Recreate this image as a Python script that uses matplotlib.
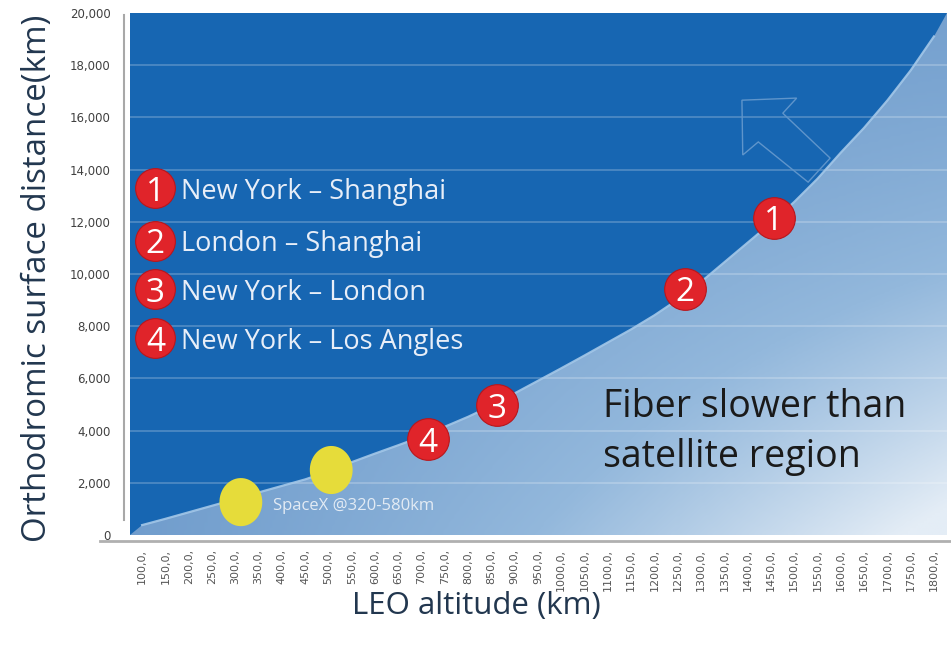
import numpy as np
import matplotlib
matplotlib.use("Agg")
import matplotlib.pyplot as plt
from matplotlib.patches import Polygon
from matplotlib.path import Path
from matplotlib.lines import Line2D
from matplotlib.colors import LinearSegmentedColormap

# LEO altitude (km) and the orthodromic distance at which fiber and satellite break even
altitude_km = np.arange(100, 1801, 50)
distance_km = [380, 620, 870, 1120, 1370, 1630, 1880, 2130, 2430, 2790,
               3120, 3440, 3770, 4150, 4530, 4950, 5430, 5910, 6390, 6880,
               7380, 7880, 8420, 9020, 9700, 10450, 11200, 11950, 12760, 13650,
               14650, 15600, 16650, 17800, 19100]
altitude_labels = [f"{a},0," for a in altitude_km]

y_ticks = [0, 2000, 4000, 6000, 8000, 10000, 12000, 14000, 16000, 18000, 20000]
y_tick_labels = ["0", "2,000", "4,000", "6,000", "8,000", "10,000", "12,000",
                 "14,000", "16,000", "18,000", "20,000"]

# city pairs
route_ids = ["1", "2", "3", "4"]
route_names = ["New York – Shanghai", "London – Shanghai",
               "New York – London", "New York – Los Angles"]
route_altitude = [1456, 1265, 862, 714]
route_distance = [12150, 9430, 4980, 3660]

# SpaceX shells
spacex_altitude = [312, 506]
spacex_distance = [1260, 2490]
spacex_label = "SpaceX @320-580km"

DARK_BLUE = "#1766b2"
RED = "#e0242a"
YELLOW = "#e6dc3a"
FONT = ["Open Sans", "DejaVu Sans"]

fig = plt.figure(figsize=(9.51, 6.48), dpi=100)
fig.patch.set_facecolor("white")
W, H = 951, 648
ax = fig.add_axes([130 / W, (H - 535) / H, 817 / W, 522 / H])
ax.set_facecolor(DARK_BLUE)
x0, x1 = 74, 1828
y0, y1 = 0, 20000
ax.set_xlim(x0, x1)
ax.set_ylim(y0, y1)
for s in ax.spines.values():
    s.set_visible(False)

# light region below the break-even curve, shaded with a diagonal gradient
verts = [(x0, y0)] + list(zip(altitude_km, distance_km)) + [(x1, y1), (x1, y0)]
region = Polygon(verts, closed=True, facecolor="none", edgecolor="none")
ax.add_patch(region)
u = np.linspace(0, 1, 300)[None, :]
v = np.linspace(1, 0, 200)[:, None]
t = np.clip(0.12 * u + 0.88 * (u ** 1.2) * (1 - v) ** 1.3 + 0.06 * (1 - v), 0, 1)
cmap = LinearSegmentedColormap.from_list("shade", ["#6d9acb", "#93b8dc", "#e4edf6"])
img = ax.imshow(t, cmap=cmap, vmin=0, vmax=1, extent=[x0, x1, y0, y1],
                aspect="auto", interpolation="bilinear", zorder=1)
img.set_clip_path(region)

# horizontal gridlines
for yt in y_ticks[1:-1]:
    ax.axhline(yt, color="white", alpha=0.25, lw=1.2, zorder=2)

# break-even curve
ax.plot(altitude_km, distance_km, color="#a3c7e8", lw=1.6, alpha=0.9, zorder=3)

# outlined arrow pointing into the "satellite faster" region
arrow_pts = [(0.749, 0.833), (0.816, 0.837), (0.799, 0.808), (0.857, 0.722),
             (0.830, 0.676), (0.769, 0.753), (0.750, 0.728)]
ax.add_patch(Polygon(arrow_pts, closed=True, transform=ax.transAxes,
                     facecolor="none", edgecolor="#5f95cb", lw=1.0, zorder=3))

# SpaceX shells as yellow ellipses
th = np.linspace(0, 2 * np.pi, 60)
ell = Path(np.column_stack([0.89 * np.cos(th), np.sin(th)]), closed=True)
ax.scatter(spacex_altitude, spacex_distance, s=1200, marker=ell,
           color=YELLOW, edgecolor="none", zorder=4)
ax.text(spacex_altitude[0] + 70, spacex_distance[0] - 160, spacex_label,
        color="#e3ebf4", fontsize=12, family=FONT, va="center", ha="left", zorder=5)

# route markers on the curve
ax.scatter(route_altitude, route_distance, s=900, color=RED,
           edgecolor="#b8161c", lw=0.8, zorder=4)
for rid, xa, yd in zip(route_ids, route_altitude, route_distance):
    ax.text(xa, yd, rid, color="white", fontsize=24, family=FONT,
            ha="center", va="center_baseline", zorder=5)

# legend of city pairs
leg_y = [0.664, 0.564, 0.471, 0.377]
for rid, name, ly in zip(route_ids, route_names, leg_y):
    ax.scatter([0.031], [ly], s=820, color=RED, edgecolor="#b8161c", lw=0.8,
               transform=ax.transAxes, zorder=4, clip_on=False)
    ax.text(0.031, ly, rid, color="white", fontsize=24, family=FONT,
            ha="center", va="center_baseline", transform=ax.transAxes, zorder=5)
    ax.text(0.062, ly, name, color="#e8eef8", fontsize=19.5, family=FONT,
            ha="left", va="center_baseline", transform=ax.transAxes, zorder=5)

ax.text(0.579, 0.197, "Fiber slower than\nsatellite region", color="#1a1a1a",
        fontsize=27, family=FONT, ha="left", va="center",
        linespacing=1.42, transform=ax.transAxes, zorder=5)

# ticks
ax.set_yticks(y_ticks)
ax.set_yticklabels(y_tick_labels, fontsize=8.5, color="#404040")
ax.set_xticks(altitude_km)
ax.set_xticklabels(altitude_labels, rotation=90, fontsize=8, color="#555555",
                   va="top", ha="center")
ax.tick_params(axis="y", length=0, pad=14)
ax.tick_params(axis="x", length=0, pad=10)

# framing lines of the value axis and category axis
fig.add_artist(Line2D([124 / W, 124 / W], [(H - 15) / H, (H - 520) / H],
                      color="#a8a8a8", lw=1.5))
fig.add_artist(Line2D([100 / W, 1.0], [(H - 541) / H, (H - 541) / H],
                      color="#b0b0b0", lw=2.0))

fig.text(38 / W, (H - 278) / H, "Orthodromic surface distance(km)", rotation=90,
         fontsize=23.8, color="#22374f", family=FONT, ha="center", va="center")
fig.text(476 / W, (H - 606) / H, "LEO altitude (km)", fontsize=22.5,
         color="#22374f", family=FONT, ha="center", va="center")

fig.savefig("out.png", dpi=100, facecolor="white")
